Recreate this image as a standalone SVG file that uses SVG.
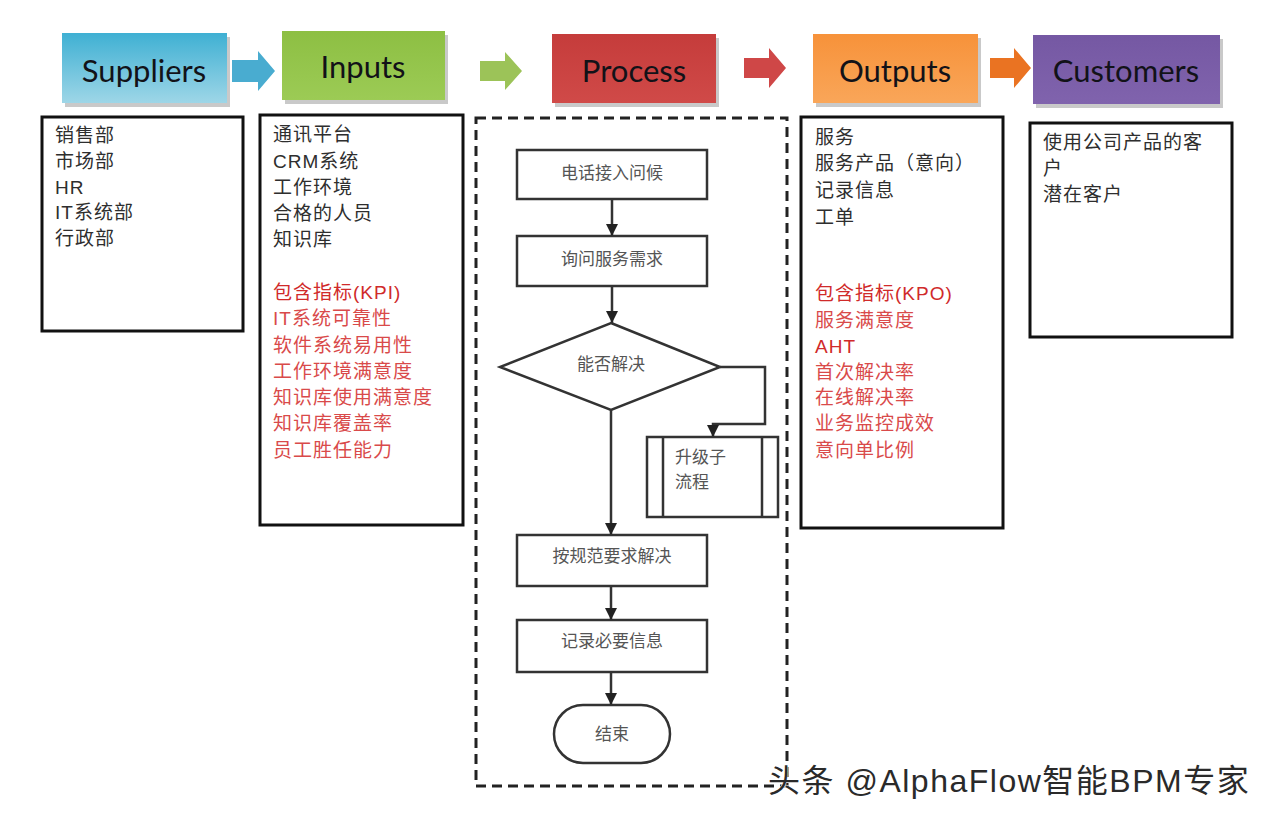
<svg xmlns="http://www.w3.org/2000/svg" width="1280" height="820" viewBox="0 0 1280 820">
<defs>
<style>
.hdr{font-family:Lato,"Open Sans","Liberation Sans",sans-serif;font-size:31px;fill:#121218;text-anchor:middle;dominant-baseline:central}
.box{fill:#fff;stroke:#111;stroke-width:3}
.t{font-family:"Liberation Sans","Noto Sans CJK SC",sans-serif;font-size:19px;fill:#2e2e2e;dominant-baseline:central;letter-spacing:1px}
.r{fill:#d94a4a}
.rk{fill:#d02a2a}
.fb{fill:#fff;stroke:#333;stroke-width:2.5}
.ft{font-family:"Noto Sans CJK SC",sans-serif;font-size:17px;fill:#555;text-anchor:middle;dominant-baseline:central}
.fts{font-family:"Noto Sans CJK SC",sans-serif;font-size:17px;fill:#555;dominant-baseline:central}
.cn{fill:none;stroke:#333;stroke-width:2.5}
.sh{fill:#c9c9c9}
</style>
<marker id="ah" viewBox="0 0 10 10" refX="10" refY="5" markerWidth="5" markerHeight="5" orient="auto" markerUnits="strokeWidth">
<path d="M0,0 L10,5 L0,10 z" fill="#222"/>
</marker>
<linearGradient id="gS" x1="0" y1="0" x2="0" y2="1"><stop offset="0" stop-color="#3fb0d3"/><stop offset="1" stop-color="#9ed6e7"/></linearGradient>
<linearGradient id="gI" x1="0" y1="0" x2="0" y2="1"><stop offset="0" stop-color="#8dbf43"/><stop offset="1" stop-color="#9ccb55"/></linearGradient>
<linearGradient id="gP" x1="0" y1="0" x2="0" y2="1"><stop offset="0" stop-color="#c53c3b"/><stop offset="1" stop-color="#d04a48"/></linearGradient>
<linearGradient id="gO" x1="0" y1="0" x2="0" y2="1"><stop offset="0" stop-color="#f7923a"/><stop offset="1" stop-color="#f9a659"/></linearGradient>
<linearGradient id="gC" x1="0" y1="0" x2="0" y2="1"><stop offset="0" stop-color="#7558a3"/><stop offset="1" stop-color="#8063ad"/></linearGradient>
</defs>
<rect width="1280" height="820" fill="#ffffff"/>

<!-- header -->
<g id="h-suppliers">
<rect class="sh" x="65" y="37" width="165" height="70"/>
<rect x="62" y="33" width="165" height="70" fill="url(#gS)"/>
<text class="hdr" x="144" y="70">Suppliers</text>
</g>
<g id="h-inputs">
<rect class="sh" x="285" y="35" width="163" height="69"/>
<rect x="282" y="31" width="163" height="69" fill="url(#gI)"/>
<text class="hdr" x="363" y="66">Inputs</text>
</g>
<g id="h-process">
<rect class="sh" x="555" y="38" width="164" height="69"/>
<rect x="552" y="34" width="164" height="69" fill="url(#gP)"/>
<text class="hdr" x="634" y="70">Process</text>
</g>
<g id="h-outputs">
<rect class="sh" x="816" y="38" width="165" height="69"/>
<rect x="813" y="34" width="165" height="69" fill="url(#gO)"/>
<text class="hdr" x="895" y="70">Outputs</text>
</g>
<g id="h-customers">
<rect class="sh" x="1036" y="39" width="187" height="69"/>
<rect x="1033" y="35" width="187" height="69" fill="url(#gC)"/>
<text class="hdr" x="1126" y="70">Customers</text>
</g>

<g id="header-arrows">
<path d="M232,60 H258 V51 L275,71 L258,91 V82 H232 Z" fill="#49acd0"/>
<path d="M480,61 H505 V52 L522,71 L505,90 V81 H480 Z" fill="#9cc358"/>
<path d="M744,58 H769 V48 L786,68 L769,88 V78 H744 Z" fill="#cf4747"/>
<path d="M990,58 H1014 V48 L1031,68 L1014,88 V78 H990 Z" fill="#ea7322"/>
</g>

<!-- suppliers box -->
<g id="suppliers">
<rect class="box" x="42" y="117" width="201" height="214"/>
<text class="t" x="55" y="135">销售部</text>
<text class="t" x="55" y="161">市场部</text>
<text class="t" x="55" y="187">HR</text>
<text class="t" x="55" y="212">IT系统部</text>
<text class="t" x="55" y="238">行政部</text>
</g>

<!-- inputs box -->
<g id="inputs">
<rect class="box" x="260" y="115" width="203" height="410"/>
<text class="t" x="273" y="134">通讯平台</text>
<text class="t" x="273" y="161">CRM系统</text>
<text class="t" x="273" y="187">工作环境</text>
<text class="t" x="273" y="213">合格的人员</text>
<text class="t" x="273" y="239">知识库</text>
<text class="t rk" x="273" y="292">包含指标(KPI)</text>
<text class="t r" x="273" y="318">IT系统可靠性</text>
<text class="t r" x="273" y="345">软件系统易用性</text>
<text class="t r" x="273" y="371">工作环境满意度</text>
<text class="t r" x="273" y="397">知识库使用满意度</text>
<text class="t r" x="273" y="423">知识库覆盖率</text>
<text class="t r" x="273" y="450">员工胜任能力</text>
</g>

<!-- process dashed container -->
<g id="process">
<rect x="476" y="118" width="311" height="668" fill="none" stroke="#222" stroke-width="3" stroke-dasharray="10 6"/>
</g>

<g id="n-greet">
<rect class="fb" x="517" y="150" width="190" height="49"/>
<text class="ft" x="612" y="171">电话接入问候</text>
</g>
<g id="n-ask">
<rect class="fb" x="517" y="236" width="190" height="50"/>
<text class="ft" x="612" y="257">询问服务需求</text>
</g>
<g id="n-decide">
<polygon class="fb" points="611,323 720,367 611,410 500,367"/>
<text class="ft" x="611" y="362">能否解决</text>
</g>
<g id="n-escalate">
<rect class="fb" x="647" y="437" width="131" height="80"/>
<line x1="663" y1="437" x2="663" y2="517" stroke="#333" stroke-width="2.5"/>
<line x1="762" y1="437" x2="762" y2="517" stroke="#333" stroke-width="2.5"/>
<text class="fts" x="675" y="455">升级子</text>
<text class="fts" x="675" y="480">流程</text>
</g>
<g id="n-solve">
<rect class="fb" x="517" y="535" width="190" height="51"/>
<text class="ft" x="612" y="554">按规范要求解决</text>
</g>
<g id="n-record">
<rect class="fb" x="517" y="620" width="190" height="52"/>
<text class="ft" x="612" y="639">记录必要信息</text>
</g>
<g id="n-end">
<rect class="fb" x="554" y="705" width="116" height="58" rx="29" ry="29"/>
<text class="ft" x="612" y="732">结束</text>
</g>

<g id="connectors">
<line class="cn" x1="612" y1="199" x2="612" y2="236" marker-end="url(#ah)"/>
<line class="cn" x1="612" y1="286" x2="612" y2="323" marker-end="url(#ah)"/>
<polyline class="cn" points="720,367 765,367 765,424 713,424 713,437" marker-end="url(#ah)"/>
<line class="cn" x1="611" y1="410" x2="611" y2="535" marker-end="url(#ah)"/>
<line class="cn" x1="611" y1="586" x2="611" y2="620" marker-end="url(#ah)"/>
<line class="cn" x1="611" y1="672" x2="611" y2="705" marker-end="url(#ah)"/>
</g>

<!-- outputs box -->
<g id="outputs">
<rect class="box" x="801" y="117" width="202" height="411"/>
<text class="t" x="815" y="137">服务</text>
<text class="t" x="815" y="163">服务产品（意向）</text>
<text class="t" x="815" y="190">记录信息</text>
<text class="t" x="815" y="217">工单</text>
<text class="t rk" x="815" y="293">包含指标(KPO)</text>
<text class="t r" x="815" y="320">服务满意度</text>
<text class="t rk" x="815" y="346">AHT</text>
<text class="t r" x="815" y="372">首次解决率</text>
<text class="t r" x="815" y="397">在线解决率</text>
<text class="t r" x="815" y="423">业务监控成效</text>
<text class="t r" x="815" y="450">意向单比例</text>
</g>

<!-- customers box -->
<g id="customers">
<rect class="box" x="1030" y="123" width="202" height="214"/>
<text class="t" x="1043" y="142">使用公司产品的客</text>
<text class="t" x="1043" y="168">户</text>
<text class="t" x="1043" y="194">潜在客户</text>
</g>

<!-- watermark -->
<text x="768" y="792" font-family="Liberation Sans,'Noto Sans CJK SC',sans-serif" font-size="32" letter-spacing="1.5" fill="#2a2a2a" stroke="#ffffff" stroke-width="1" paint-order="stroke">头条 @AlphaFlow智能BPM专家</text>
</svg>
